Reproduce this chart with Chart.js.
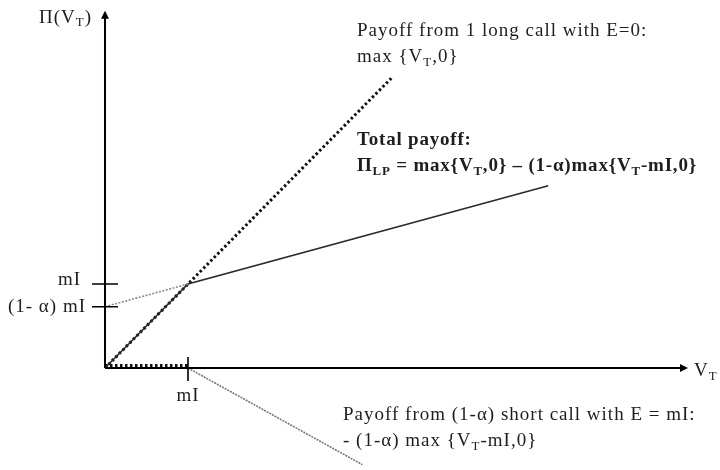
<!DOCTYPE html>
<html>
<head>
<meta charset="utf-8">
<script src="https://cdn.jsdelivr.net/npm/chart.js@4.4.1/dist/chart.umd.min.js"></script>
<style>
  html, body { margin: 0; padding: 0; background: #fff; }
  #wrap { width: 720px; height: 470px; }
</style>
</head>
<body>
<div id="wrap"><canvas id="payoff" width="720" height="470"></canvas></div>
<script>
const mI = 1;
const oneMinusAlpha = 0.73;

// Long call, E = 0
const longCallX = [0, 3.45];
const longCallY = [0, 3.45];

// Total payoff (kink at mI)
const totalX = [0, 1, 5.34];
const totalY = [0, 1, 2.17];

// Back-extension of the upper branch to the y axis
const extX = [0, 1];
const extY = [0.73, 1];

// Short call: flat part and the sloping part
const shortFlatX = [0, 1];
const shortFlatY = [0.03, 0.03];
const shortX = [1, 3.1];
const shortY = [0, -1.15];

// Axes (value of arrow tips)
const axisXEnd = 7.0;
const axisYEnd = 4.23;

const pts = (xs, ys) => xs.map((x, i) => ({ x: x, y: ys[i] }));

const FONT = '"Liberation Serif", "Times New Roman", serif';
const INK = '#1e1e1e';

/**
 * Draw a run of text pieces, some as subscripts
 */
function drawRich(ctx, x, y, pieces, size, bold, align) {
    const weight = bold ? 'bold ' : '';
    const spacing = bold ? '0.8px' : '1px';
    let total = 0;
    const widths = pieces.map(p => {
        const s = p.sub ? size * 0.68 : size;
        ctx.font = weight + s + 'px ' + FONT;
        ctx.letterSpacing = spacing;
        const w = ctx.measureText(p.t).width;
        total += w;
        return w;
    });
    let cx = align === 'right' ? x - total : (align === 'center' ? x - total / 2 : x);
    pieces.forEach((p, i) => {
        const s = p.sub ? size * 0.68 : size;
        ctx.font = weight + s + 'px ' + FONT;
        ctx.letterSpacing = spacing;
        ctx.fillText(p.t, cx, p.sub ? y + size * 0.28 : y);
        cx += widths[i];
    });
    ctx.letterSpacing = '0px';
}

const annotations = {
    id: 'annotations',
    afterDatasetsDraw(chart) {
        const ctx = chart.ctx;
        const xs = chart.scales.x;
        const ys = chart.scales.y;
        const px = v => xs.getPixelForValue(v);
        const py = v => ys.getPixelForValue(v);

        ctx.save();
        ctx.strokeStyle = '#000';
        ctx.fillStyle = '#000';
        ctx.lineWidth = 2;
        ctx.setLineDash([]);

        // arrow heads
        const ax = px(axisXEnd), ay = py(0);
        ctx.beginPath();
        ctx.moveTo(ax + 2, ay);
        ctx.lineTo(ax - 6, ay - 4);
        ctx.lineTo(ax - 6, ay + 4);
        ctx.closePath();
        ctx.fill();
        const bx = px(0), by = py(axisYEnd);
        ctx.beginPath();
        ctx.moveTo(bx, by - 2);
        ctx.lineTo(bx - 4, by + 6);
        ctx.lineTo(bx + 4, by + 6);
        ctx.closePath();
        ctx.fill();

        // ticks
        ctx.lineWidth = 1.6;
        ctx.beginPath();
        ctx.moveTo(px(0) - 13, py(mI));
        ctx.lineTo(px(0) + 13, py(mI));
        ctx.moveTo(px(0) - 13, py(oneMinusAlpha * mI));
        ctx.lineTo(px(0) + 13, py(oneMinusAlpha * mI));
        ctx.moveTo(px(mI), py(0) - 11);
        ctx.lineTo(px(mI), py(0) + 13);
        ctx.stroke();

        // text
        ctx.fillStyle = INK;
        ctx.textBaseline = 'middle';
        const sz = 19;
        drawRich(ctx, px(0) - 13, py(axisYEnd) + 5, [{ t: 'Π(V' }, { t: 'T', sub: true }, { t: ')' }], sz, false, 'right');
        drawRich(ctx, px(0) - 24, py(mI) - 4, [{ t: 'mI' }], sz, false, 'right');
        drawRich(ctx, px(0) - 19, py(oneMinusAlpha * mI), [{ t: '(1- α) mI' }], sz, false, 'right');
        drawRich(ctx, px(mI), py(0) + 28, [{ t: 'mI' }], sz, false, 'center');
        drawRich(ctx, px(axisXEnd) + 8, py(0) + 3, [{ t: 'V' }, { t: 'T', sub: true }], sz, false, 'left');

        const tx = 357;
        drawRich(ctx, tx, 31, [{ t: 'Payoff from 1 long call with E=0:' }], sz, false, 'left');
        drawRich(ctx, tx, 57, [{ t: 'max {V' }, { t: 'T', sub: true }, { t: ',0}' }], sz, false, 'left');
        drawRich(ctx, tx, 140, [{ t: 'Total payoff:' }], sz, true, 'left');
        drawRich(ctx, tx, 166, [
            { t: 'Π' }, { t: 'LP', sub: true },
            { t: ' = max{V' }, { t: 'T', sub: true },
            { t: ',0} – (1-α)max{V' }, { t: 'T', sub: true },
            { t: '-mI,0}' }
        ], sz, true, 'left');
        drawRich(ctx, 343, 415, [{ t: 'Payoff from (1-α) short call with E = mI:' }], sz, false, 'left');
        drawRich(ctx, 343, 441, [{ t: '- (1-α) max {V' }, { t: 'T', sub: true }, { t: '-mI,0}' }], sz, false, 'left');
        ctx.restore();
    }
};

const chart = new Chart(document.getElementById('payoff'), {
    type: 'scatter',
    data: {
        datasets: [
            { data: pts([0, axisXEnd], [0, 0]), borderColor: '#000', borderWidth: 2 },
            { data: pts([0, 0], [0, axisYEnd]), borderColor: '#000', borderWidth: 2 },
            { data: pts(extX, extY), borderColor: '#8a8a8a', borderWidth: 1.6, borderDash: [2, 1.5] },
            { data: pts(shortX, shortY), borderColor: '#777', borderWidth: 1.6, borderDash: [2, 1] },
            { data: pts(totalX, totalY), borderColor: '#2a2a2a', borderWidth: 1.6 },
            { data: pts(longCallX, longCallY), borderColor: '#111', borderWidth: 3, borderDash: [2.5, 2.5] },
            { data: pts(shortFlatX, shortFlatY), borderColor: '#111', borderWidth: 3, borderDash: [2.5, 2.5] },
        ].map(d => Object.assign({ showLine: true, pointRadius: 0, fill: false }, d))
    },
    options: {
        responsive: false,
        animation: false,
        layout: { padding: 0 },
        plugins: { legend: { display: false }, tooltip: { enabled: false } },
        scales: {
            x: { type: 'linear', min: -1.265, max: 7.41, display: false },
            y: { type: 'linear', min: -1.214, max: 4.381, display: false }
        }
    },
    plugins: [annotations]
});
</script>
</body>
</html>
